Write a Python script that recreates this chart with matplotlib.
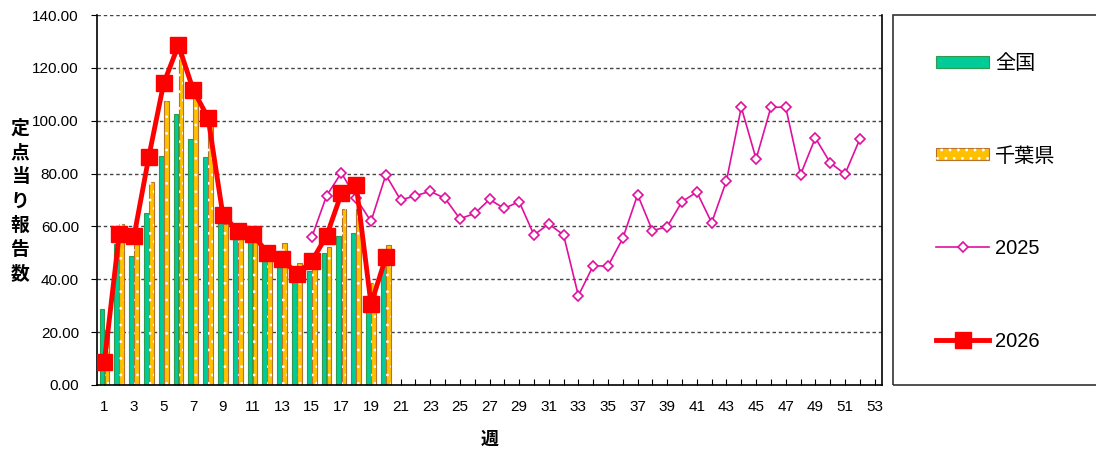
import matplotlib
matplotlib.use('Agg')
import matplotlib.pyplot as plt
import numpy as np
from matplotlib.legend_handler import HandlerTuple
from matplotlib.patches import Rectangle

# ---- data ----
weeks = list(range(1, 54))
tick_labels = [str(w) if w % 2 == 1 else '' for w in weeks]
yticks = [0, 20, 40, 60, 80, 100, 120, 140]

national = [28.6, 53.3, 48.7, 65.0, 86.5, 102.4, 93.2, 86.4, 62.4, 56.1,
            59.7, 47.9, 50.7, 40.4, 43.3, 49.8, 56.4, 57.5, 30.0, 47.3]
chiba = [20.8, 60.9, 57.5, 76.9, 107.6, 125.6, 109.3, 100.0, 61.0, 57.5,
         60.2, 48.5, 53.6, 46.0, 45.4, 52.3, 66.6, 66.5, 38.5, 53.0]
y2025_weeks = list(range(15, 53))
y2025 = [55.9, 71.6, 80.3, 70.6, 61.9, 79.5, 70.0, 71.6, 73.3, 70.6,
         62.9, 64.9, 70.2, 66.8, 69.4, 56.8, 60.9, 56.8, 33.8, 45.1,
         45.0, 55.5, 72.0, 58.4, 59.9, 69.4, 73.0, 61.4, 77.3, 105.1,
         85.5, 105.1, 105.1, 79.6, 93.5, 84.1, 79.8, 93.0]
y2026 = [8.8, 57.1, 56.3, 86.4, 114.1, 128.6, 111.6, 101.1, 64.3, 58.3,
         57.0, 50.1, 47.7, 42.0, 46.9, 56.4, 72.5, 75.7, 30.6, 48.3]

labels = ['全国', '千葉県', '2025', '2026']

plt.rcParams['font.family'] = ['Liberation Sans', 'Noto Sans CJK JP']
plt.rcParams['hatch.linewidth'] = 0.8

fig = plt.figure(figsize=(10.96, 4.5), dpi=100)
ax = fig.add_axes([97/1096, 65/450, 785/1096, 370/450])

x26 = np.arange(1, len(y2026) + 1)
xb = np.arange(1, len(national) + 1)
bw = 0.32
green = ax.bar(xb - 0.17, national, width=bw, color='#00CC99',
               edgecolor='#2E9B4E', linewidth=0.8, zorder=2)
orange = ax.bar(xb + 0.17, chiba, width=bw, color='#FFC000',
                edgecolor='#B8732A', linewidth=0.8, zorder=2)
dots = ax.bar(xb + 0.17, chiba, width=bw, color='none', edgecolor='white',
              linewidth=0, hatch='..', zorder=2.1)

l25, = ax.plot(y2025_weeks, y2025, color='#E0109E', linewidth=1.2,
               marker='D', markersize=5.5, markerfacecolor='white',
               markeredgecolor='#E0109E', markeredgewidth=1.2, zorder=3)
l26, = ax.plot(x26, y2026, color='#FF0000', linewidth=3.5, marker='s',
               markersize=11, markerfacecolor='#FF0000',
               markeredgecolor='#FF0000', zorder=4)

ax.set_xlim(0.5, 53.5)
ax.set_ylim(0, 140)
ax.set_yticks(yticks)
ax.set_yticklabels([f'{v:.2f}' for v in yticks], fontsize=11)
ax.set_xticks(weeks)
ax.set_xticklabels(tick_labels, fontsize=11)
ax.tick_params(axis='x', direction='in', length=4, pad=11, color='black')
ax.tick_params(axis='y', direction='out', length=4, pad=9, color='black')
for v in yticks[1:]:
    ax.axhline(v, color='#444444', linestyle=(0, (2.5, 2)), linewidth=1.0, zorder=1)
ax.spines['top'].set_visible(False)
for s in ['left', 'bottom', 'right']:
    ax.spines[s].set_linewidth(1.2)
    ax.spines[s].set_color('black')

ax.set_xlabel('週', fontsize=13, fontweight='bold', labelpad=13)
fig.text(20/1096, 1 - 201/450, '\n'.join('定点当り報告数'), fontsize=13.5,
         fontweight='bold', ha='center', va='center', linespacing=1.35,
         family=['Noto Sans CJK JP'])

# legend frame
fig.patches.append(Rectangle((893/1096, 65/450), 0.3, 370/450,
                             transform=fig.transFigure, fill=False,
                             edgecolor='#333333', linewidth=1.2))
leg = fig.legend([green, (orange, dots), l25, l26], labels,
                 loc='upper left', bbox_to_anchor=(936/1096, 1 - 54/450),
                 frameon=False, fontsize=14.5, labelspacing=3.65,
                 handlelength=2.65, handleheight=0.55, handletextpad=0.3,
                 borderpad=0, borderaxespad=0,
                 handler_map={tuple: HandlerTuple(ndivide=1)})

fig.savefig('out.png', dpi=100)
